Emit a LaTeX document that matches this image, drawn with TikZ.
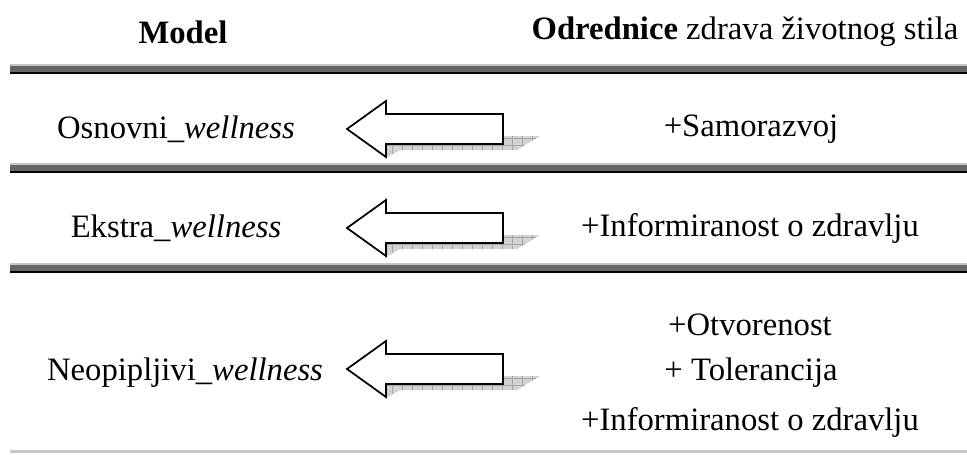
\documentclass[tikz,border=0pt]{standalone}
\usepackage{fontspec}
\setmainfont{Liberation Serif}
\begin{document}
\begin{tikzpicture}[x=0.75pt,y=-0.75pt,
  lbl/.style={font=\fontsize{24.5}{28}\selectfont, inner sep=0pt, anchor=center},
  pics/bigarrow/.style={code={
    \begin{scope}
      \path[clip] (39,15)--(156,15)--(156,7)--(193,7)--(170,21)--(53,21)--(39,29)--cycle;
      \fill[gray!35] (30,0) rectangle (200,35);
      \foreach \gx in {45,55,...,195} \draw[gray!70,line width=0.4pt] (\gx,0)--(\gx,35);
      \foreach \gy in {9,16} \draw[gray!70,line width=0.4pt] (30,\gy)--(200,\gy);
    \end{scope}
    \draw[line width=1.3pt,line join=miter,fill=white] (0,0)--(39,-28)--(39,-15)--(156,-15)--(156,15)--(39,15)--(39,28)--cycle;
  }}]
\useasboundingbox (0,0) rectangle (967,454);
% header
\node[lbl] (hmodel) at (183,32) {\textbf{Model}};
\node[lbl] (hodr) at (745,32) {\textbf{Odrednice} zdrava životnog stila};
% bars
\foreach \by in {64,163,263}{
  \fill[gray!45] (10,\by) rectangle (967,\by+2);
  \fill[black!60] (10,\by+2) rectangle (967,\by+8);
  \fill[black] (10,\by+8) rectangle (967,\by+10);
}
\fill[gray!45] (10,450) rectangle (967,453);
% row 1
\node[lbl] (m1) at (176,129) {Osnovni\_\textit{wellness}};
\pic at (347,129) {bigarrow};
\node[lbl] (o1) at (751,129) {+Samorazvoj};
% row 2
\node[lbl] (m2) at (176,228) {Ekstra\_\textit{wellness}};
\pic at (347,228) {bigarrow};
\node[lbl] (o2) at (750,228) {+Informiranost o zdravlju};
% row 3
\node[lbl] (m3) at (185,373) {Neopipljivi\_\textit{wellness}};
\pic at (347,369) {bigarrow};
\node[lbl] (o3a) at (750,325) {+Otvorenost};
\node[lbl] (o3b) at (751,373) {+ Tolerancija};
\node[lbl] (o3c) at (750,422) {+Informiranost o zdravlju};
\end{tikzpicture}
\end{document}
